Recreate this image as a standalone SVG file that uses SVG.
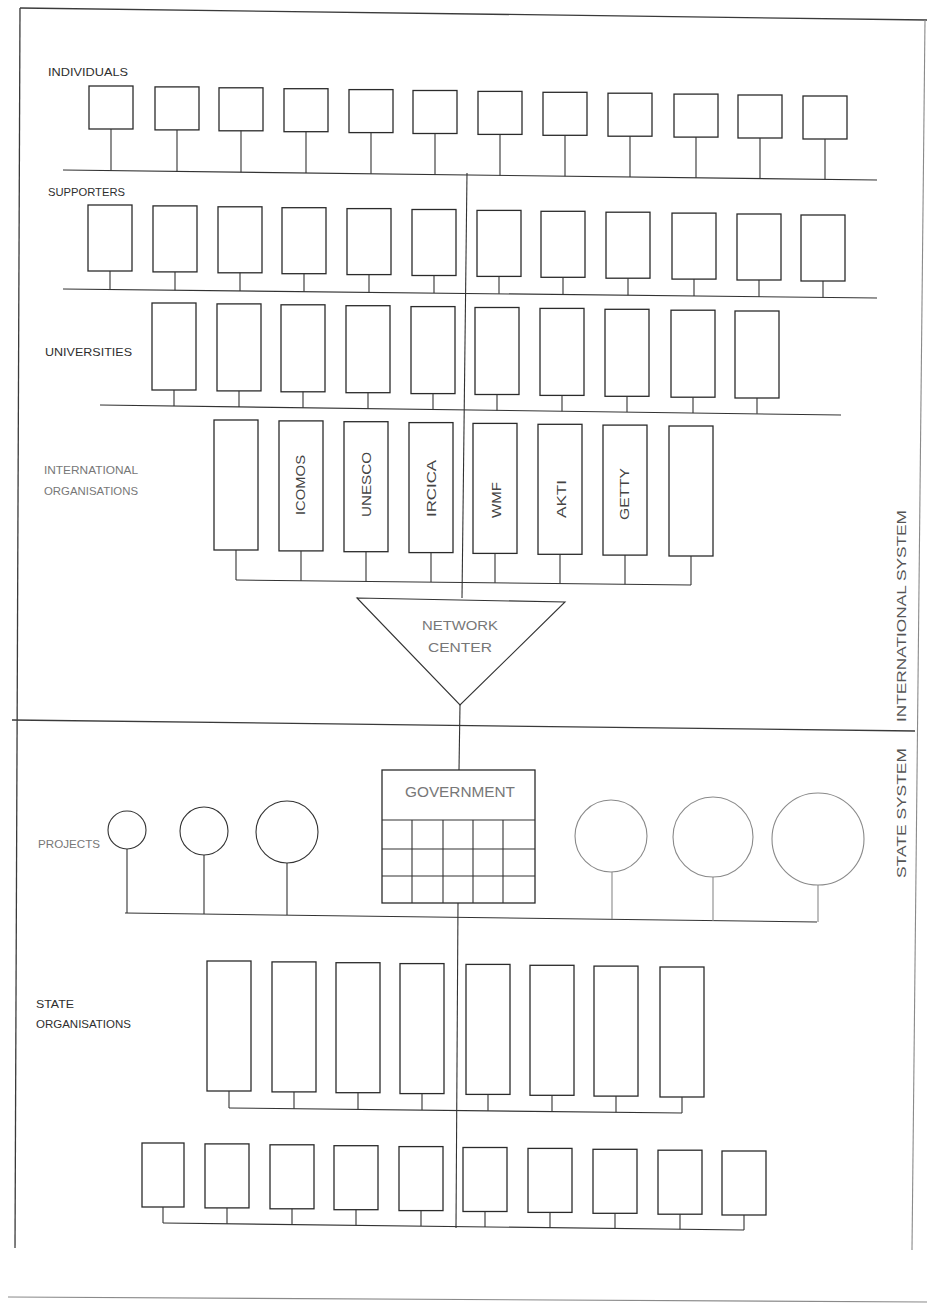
<svg xmlns="http://www.w3.org/2000/svg" width="927" height="1305" viewBox="0 0 927 1305">
<style>
.bg{fill:#ffffff}
.b{fill:none;stroke:#2b2b2b;stroke-width:1.3}
.c{fill:none;stroke:#333;stroke-width:1.1}
.f{fill:none;stroke:#3a3a3a;stroke-width:1.3}
.lc{fill:none;stroke:#8a8a8a;stroke-width:1.1}
.t{font-family:"Liberation Sans",Arial,sans-serif;font-size:11px;fill:#2e2e2e}
.tg{font-family:"Liberation Sans",Arial,sans-serif;font-size:11px;fill:#777}
.tv{font-family:"Liberation Sans",Arial,sans-serif;font-size:12px;fill:#444}
.tb{font-family:"Liberation Sans",Arial,sans-serif;font-size:13px;fill:#555}
</style>
<rect class="bg" x="0" y="0" width="927" height="1305"/>

<g id="frame">
<line class="f" x1="20" y1="8" x2="927" y2="20"/>
<line class="f" x1="20" y1="8" x2="15" y2="1248"/>
<line class="lc" x1="925" y1="20" x2="912" y2="1250"/>
<line class="lc" x1="8" y1="1297" x2="927" y2="1302"/>
<line class="f" x1="12" y1="720" x2="915" y2="731"/>
<text class="tb" transform="translate(906,722) rotate(-90)" textLength="212" lengthAdjust="spacingAndGlyphs">INTERNATIONAL  SYSTEM</text>
<text class="tb" transform="translate(906,878) rotate(-90)" textLength="130" lengthAdjust="spacingAndGlyphs">STATE  SYSTEM</text>
</g>

<g id="labels">
<text class="t" x="48" y="76" textLength="80" lengthAdjust="spacingAndGlyphs">INDIVIDUALS</text>
<text class="t" x="48" y="196" textLength="77" lengthAdjust="spacingAndGlyphs">SUPPORTERS</text>
<text class="t" x="45" y="356" textLength="87" lengthAdjust="spacingAndGlyphs">UNIVERSITIES</text>
<text class="tg" x="44" y="474" textLength="94" lengthAdjust="spacingAndGlyphs">INTERNATIONAL</text>
<text class="tg" x="44" y="495" textLength="94" lengthAdjust="spacingAndGlyphs">ORGANISATIONS</text>
<text class="tg" x="38" y="848" textLength="62" lengthAdjust="spacingAndGlyphs">PROJECTS</text>
<text class="t" x="36" y="1008" textLength="38" lengthAdjust="spacingAndGlyphs">STATE</text>
<text class="t" x="36" y="1028" textLength="95" lengthAdjust="spacingAndGlyphs">ORGANISATIONS</text>
</g>

<g id="individuals">
<rect class="b" x="89" y="86" width="44" height="43"/>
<rect class="b" x="155" y="86.9" width="44" height="43"/>
<rect class="b" x="219" y="87.8" width="44" height="43"/>
<rect class="b" x="284" y="88.7" width="44" height="43"/>
<rect class="b" x="349" y="89.6" width="44" height="43"/>
<rect class="b" x="413" y="90.5" width="44" height="43"/>
<rect class="b" x="478" y="91.4" width="44" height="43"/>
<rect class="b" x="543" y="92.3" width="44" height="43"/>
<rect class="b" x="608" y="93.2" width="44" height="43"/>
<rect class="b" x="674" y="94.1" width="44" height="43"/>
<rect class="b" x="738" y="95" width="44" height="43"/>
<rect class="b" x="803" y="96" width="44" height="43"/>
</g>

<g id="supporters">
<rect class="b" x="88" y="205" width="44" height="66"/>
<rect class="b" x="153" y="205.9" width="44" height="66"/>
<rect class="b" x="218" y="206.8" width="44" height="66"/>
<rect class="b" x="282" y="207.7" width="44" height="66"/>
<rect class="b" x="347" y="208.6" width="44" height="66"/>
<rect class="b" x="412" y="209.5" width="44" height="66"/>
<rect class="b" x="477" y="210.4" width="44" height="66"/>
<rect class="b" x="541" y="211.3" width="44" height="66"/>
<rect class="b" x="606" y="212.2" width="44" height="66"/>
<rect class="b" x="672" y="213.1" width="44" height="66"/>
<rect class="b" x="737" y="214" width="44" height="66"/>
<rect class="b" x="801" y="215" width="44" height="66"/>
</g>

<g id="universities">
<rect class="b" x="152" y="303" width="44" height="87"/>
<rect class="b" x="217" y="303.9" width="44" height="87"/>
<rect class="b" x="281" y="304.8" width="44" height="87"/>
<rect class="b" x="346" y="305.7" width="44" height="87"/>
<rect class="b" x="411" y="306.6" width="44" height="87"/>
<rect class="b" x="475" y="307.5" width="44" height="87"/>
<rect class="b" x="540" y="308.4" width="44" height="87"/>
<rect class="b" x="605" y="309.3" width="44" height="87"/>
<rect class="b" x="671" y="310.2" width="44" height="87"/>
<rect class="b" x="735" y="311" width="44" height="87"/>
</g>

<g id="international-organisations">
<rect class="b" x="214" y="420" width="44" height="130"/>
<g id="icomos"><rect class="b" x="279" y="420.9" width="44" height="130"/>
<text class="tv" transform="translate(305,515) rotate(-90)" textLength="60" lengthAdjust="spacingAndGlyphs">ICOMOS</text></g>
<g id="unesco"><rect class="b" x="344" y="421.7" width="44" height="130"/>
<text class="tv" transform="translate(371,517) rotate(-90)" textLength="65" lengthAdjust="spacingAndGlyphs">UNESCO</text></g>
<g id="ircica"><rect class="b" x="409" y="422.6" width="44" height="130"/>
<text class="tv" transform="translate(436,517) rotate(-90)" textLength="57" lengthAdjust="spacingAndGlyphs">IRCICA</text></g>
<g id="wmf"><rect class="b" x="473" y="423.4" width="44" height="130"/>
<text class="tv" transform="translate(501,518) rotate(-90)" textLength="36" lengthAdjust="spacingAndGlyphs">WMF</text></g>
<g id="akti"><rect class="b" x="538" y="424.3" width="44" height="130"/>
<text class="tv" transform="translate(566,518) rotate(-90)" textLength="38" lengthAdjust="spacingAndGlyphs">AKTI</text></g>
<g id="getty"><rect class="b" x="603" y="425.1" width="44" height="130"/>
<text class="tv" transform="translate(629,520) rotate(-90)" textLength="52" lengthAdjust="spacingAndGlyphs">GETTY</text></g>
<rect class="b" x="669" y="426" width="44" height="130"/>
</g>

<g id="network-center">
<polygon class="c" points="357,598 565,602 460,705"/>
<text class="tg" x="460" y="630" text-anchor="middle" textLength="76" lengthAdjust="spacingAndGlyphs" style="font-size:13px">NETWORK</text>
<text class="tg" x="460" y="652" text-anchor="middle" textLength="64" lengthAdjust="spacingAndGlyphs" style="font-size:13px">CENTER</text>
</g>

<g id="government">
<rect class="b" x="382" y="770" width="153" height="133"/>
<text class="tg" x="460" y="797" text-anchor="middle" textLength="110" lengthAdjust="spacingAndGlyphs" style="font-size:14px">GOVERNMENT</text>
<line class="c" x1="382" y1="820" x2="535" y2="820"/>
<line class="c" x1="382" y1="849" x2="535" y2="849"/>
<line class="c" x1="382" y1="876" x2="535" y2="876"/>
<line class="c" x1="412" y1="820" x2="412" y2="903"/>
<line class="c" x1="443" y1="820" x2="443" y2="903"/>
<line class="c" x1="473" y1="820" x2="473" y2="903"/>
<line class="c" x1="503" y1="820" x2="503" y2="903"/>
</g>

<g id="projects">
<circle class="c" cx="127" cy="830" r="19"/>
<circle class="c" cx="204" cy="831" r="24"/>
<circle class="c" cx="287" cy="832" r="31"/>
<circle class="lc" cx="611" cy="836" r="36"/>
<circle class="lc" cx="713" cy="837" r="40"/>
<circle class="lc" cx="818" cy="839" r="46"/>
</g>

<g id="state-organisations">
<rect class="b" x="207" y="961" width="44" height="130"/>
<rect class="b" x="272" y="961.9" width="44" height="130"/>
<rect class="b" x="336" y="962.7" width="44" height="130"/>
<rect class="b" x="400" y="963.6" width="44" height="130"/>
<rect class="b" x="466" y="964.4" width="44" height="130"/>
<rect class="b" x="530" y="965.3" width="44" height="130"/>
<rect class="b" x="594" y="966.1" width="44" height="130"/>
<rect class="b" x="660" y="967" width="44" height="130"/>
</g>

<g id="state-units">
<rect class="b" x="142" y="1143" width="42" height="64"/>
<rect class="b" x="205" y="1143.9" width="44" height="64"/>
<rect class="b" x="270" y="1144.8" width="44" height="64"/>
<rect class="b" x="334" y="1145.7" width="44" height="64"/>
<rect class="b" x="399" y="1146.6" width="44" height="64"/>
<rect class="b" x="463" y="1147.5" width="44" height="64"/>
<rect class="b" x="528" y="1148.4" width="44" height="64"/>
<rect class="b" x="593" y="1149.3" width="44" height="64"/>
<rect class="b" x="658" y="1150.2" width="44" height="64"/>
<rect class="b" x="722" y="1151" width="44" height="64"/>
</g>

<g id="connectors">
<!-- individuals bus -->
<line class="c" x1="63" y1="170" x2="877" y2="180"/>
<path class="c" d="M111 129V170.6 M177 129.9V171.4 M241 130.8V172.2 M306 131.7V173 M371 132.6V173.8 M435 133.5V174.6 M500 134.4V175.4 M565 135.3V176.2 M630 136.2V177 M696 137.1V177.8 M760 138V178.6 M825 139V179.4"/>
<!-- supporters bus -->
<line class="c" x1="63" y1="289" x2="877" y2="298"/>
<path class="c" d="M110 271V289.5 M175 271.9V290.2 M240 272.8V291 M304 273.7V291.7 M369 274.6V292.4 M434 275.5V293.1 M499 276.4V293.8 M563 277.3V294.5 M628 278.2V295.2 M694 279.1V296 M759 280V296.7 M823 281V297.4"/>
<!-- universities bus -->
<line class="c" x1="100" y1="405" x2="841" y2="415"/>
<path class="c" d="M174 390V406 M239 390.9V406.9 M303 391.8V407.7 M368 392.7V408.6 M433 393.6V409.5 M497 394.5V410.4 M562 395.4V411.2 M627 396.3V412.1 M693 397.2V413 M757 398V413.8"/>
<!-- international organisations bus -->
<line class="c" x1="236" y1="580" x2="691" y2="585"/>
<path class="c" d="M236 550V580 M301 550.9V580.7 M366 551.7V581.4 M431 552.6V582.1 M495 553.4V582.8 M560 554.3V583.6 M625 555.1V584.3 M691 556V585"/>
<!-- central spine -->
<line class="c" x1="467" y1="173" x2="462" y2="598"/>
<line class="c" x1="460" y1="705" x2="459" y2="770"/>
<line class="c" x1="458" y1="903" x2="456" y2="1228"/>
<!-- projects bus -->
<line class="c" x1="125" y1="913" x2="817" y2="922"/>
<path class="c" d="M127 849V913 M204 855V914 M287 863V915"/>
<path class="lc" d="M612 872V919 M713 877V921 M818 885V922"/>
<!-- state organisations bus -->
<line class="c" x1="229" y1="1108" x2="682" y2="1113"/>
<path class="c" d="M229 1091V1108 M294 1091.9V1108.7 M358 1092.7V1109.4 M422 1093.6V1110.1 M488 1094.4V1110.8 M552 1095.3V1111.5 M616 1096.1V1112.3 M682 1097V1113"/>
<!-- state units bus -->
<line class="c" x1="163" y1="1223" x2="744" y2="1230"/>
<path class="c" d="M163 1207V1223 M227 1207.9V1223.8 M292 1208.8V1224.5 M356 1209.7V1225.3 M421 1210.6V1226.1 M485 1211.5V1226.9 M550 1212.4V1227.7 M615 1213.3V1228.5 M680 1214.2V1229.2 M744 1215V1230"/>
</g>
</svg>
